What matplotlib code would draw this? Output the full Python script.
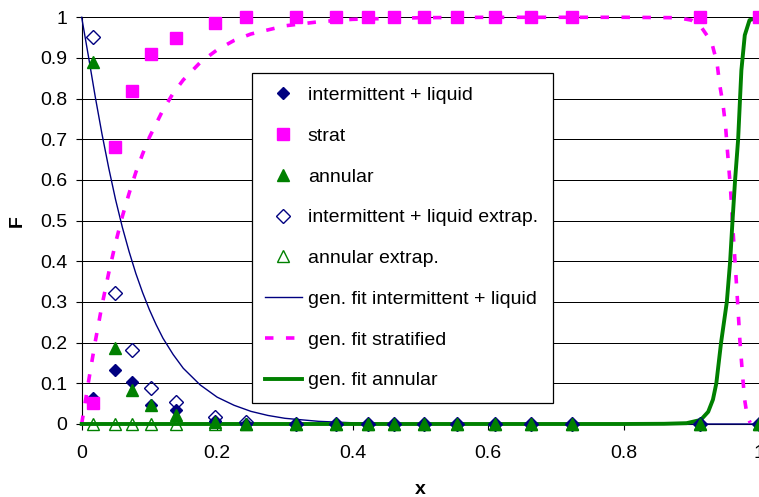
import matplotlib.pyplot as plt
from matplotlib.lines import Line2D

plt.rcParams['font.family'] = ['Liberation Sans', 'DejaVu Sans']

# measured points (x = quality)
x_pts = [0.017, 0.049, 0.075, 0.102, 0.140, 0.197, 0.243, 0.317, 0.376,
         0.422, 0.461, 0.506, 0.554, 0.610, 0.664, 0.724, 0.913, 1.0]
int_liq = [0.064, 0.133, 0.104, 0.047, 0.034, 0.008, 0, 0, 0,
           0, 0, 0, 0, 0, 0, 0, 0, 0]
strat = [0.052, 0.68, 0.82, 0.909, 0.95, 0.985, 1, 1, 1,
         1, 1, 1, 1, 1, 1, 1, 1, 1]
annular = [0.891, 0.187, 0.084, 0.047, 0.022, 0.006, 0, 0, 0,
           0, 0, 0, 0, 0, 0, 0, 0, 0]
int_extrap = [0.951, 0.323, 0.182, 0.089, 0.054, 0.017, 0.005, 0, 0,
              0, 0, 0, 0, 0, 0, 0, 0, 0]
ann_extrap = [0, 0, 0, 0, 0, 0, 0, 0, 0,
              0, 0, 0, 0, 0, 0, 0, 0, 0]

# generalised fits
fit_int_x = [0, 0.01, 0.02, 0.03, 0.04, 0.05, 0.06, 0.07, 0.08, 0.09, 0.10,
             0.11, 0.12, 0.135, 0.15, 0.175, 0.20, 0.225, 0.25, 0.275, 0.30,
             0.35, 0.40, 0.45, 0.50, 0.60, 1.0]
fit_int_y = [1, 0.904, 0.805, 0.713, 0.629, 0.552, 0.484, 0.424, 0.370, 0.323,
             0.281, 0.244, 0.211, 0.171, 0.137, 0.096, 0.066, 0.046, 0.031,
             0.021, 0.014, 0.0065, 0.003, 0.0013, 0.0005, 0, 0]

fit_str_x = [0, 0.005, 0.01, 0.02, 0.03, 0.04, 0.05, 0.06, 0.07, 0.08, 0.09,
             0.10, 0.12, 0.135, 0.15, 0.175, 0.20, 0.225, 0.25, 0.30, 0.35,
             0.40, 0.50, 0.60, 0.70, 0.80, 0.88, 0.90, 0.913, 0.930, 0.938,
             0.942, 0.947, 0.9506, 0.953, 0.958, 0.9618, 0.9658, 0.9697,
             0.9717, 0.974, 0.9763, 0.9789, 0.9825, 0.987]
fit_str_y = [0, 0.051, 0.103, 0.202, 0.292, 0.372, 0.445, 0.510, 0.567, 0.619,
             0.664, 0.705, 0.772, 0.813, 0.846, 0.889, 0.920, 0.943, 0.959,
             0.979, 0.989, 0.995, 0.999, 1, 1, 1, 0.999, 0.993, 0.98, 0.939,
             0.888, 0.834, 0.784, 0.733, 0.68, 0.577, 0.471, 0.369, 0.264,
             0.207, 0.157, 0.108, 0.059, 0.02, 0.003]

fit_ann_x = [0, 0.5, 0.8, 0.86, 0.893, 0.914, 0.925, 0.932, 0.937, 0.944,
             0.9525, 0.9574, 0.9609, 0.9647, 0.9692, 0.972, 0.974, 0.979,
             0.986, 1.0]
fit_ann_y = [0, 0, 0, 0.0005, 0.002, 0.01, 0.03, 0.06, 0.1, 0.2,
             0.3, 0.4, 0.5, 0.6, 0.7, 0.8, 0.87, 0.956,
             0.993, 1.0]

x_ticks = [0, 0.2, 0.4, 0.6, 0.8, 1.0]
x_labels = ['0', '0.2', '0.4', '0.6', '0.8', '1']
y_ticks = [0, 0.1, 0.2, 0.3, 0.4, 0.5, 0.6, 0.7, 0.8, 0.9, 1.0]
y_labels = ['0', '0.1', '0.2', '0.3', '0.4', '0.5', '0.6', '0.7', '0.8', '0.9', '1']

navy = '#000080'
mag = '#FF00FF'
grn = '#008000'
dash = (0, (2.35, 3.45))

fig = plt.figure(figsize=(7.59, 4.97), dpi=100)
ax = fig.add_axes([0.1076, 0.1469, 0.8924, 0.8183])

ax.plot(fit_int_x, fit_int_y, color=navy, lw=1.0, clip_on=False, zorder=3)
ax.plot(fit_str_x, fit_str_y, color=mag, lw=2.6, linestyle=dash,
        clip_on=False, zorder=3)
ax.plot(fit_ann_x, fit_ann_y, color=grn, lw=2.8, clip_on=False, zorder=3)

ax.plot(x_pts, int_extrap, 'D', ms=7.5, mfc='none', mec=navy, mew=1.0,
        clip_on=False, zorder=4)
ax.plot(x_pts, ann_extrap, '^', ms=8, mfc='none', mec=grn, mew=1.0,
        clip_on=False, zorder=4)
ax.plot(x_pts, int_liq, 'D', ms=6, color=navy, clip_on=False, zorder=5)
ax.plot(x_pts, strat, 's', ms=8.5, color=mag, clip_on=False, zorder=6)
ax.plot(x_pts, annular, '^', ms=8, color=grn, clip_on=False, zorder=7)

ax.set_xlim(0, 1)
ax.set_ylim(0, 1)
ax.set_xticks(x_ticks, x_labels)
ax.set_yticks(y_ticks, y_labels)
ax.tick_params(labelsize=14, length=4, width=0.8, direction='out')
ax.tick_params(axis='y', pad=6.5)
ax.tick_params(axis='x', pad=11)
ax.grid(axis='y', color='black', lw=0.72)
ax.set_axisbelow(True)
for s in ['top', 'right']:
    ax.spines[s].set_visible(False)
ax.spines['left'].set_linewidth(0.8)
ax.spines['bottom'].set_linewidth(0.8)

ax.set_xlabel('x', fontsize=14, fontweight='bold', labelpad=14)
ax.set_ylabel('F', fontsize=14, fontweight='bold', labelpad=10)

handles = [
    Line2D([], [], ls='none', marker='D', ms=6, color=navy),
    Line2D([], [], ls='none', marker='s', ms=8.5, color=mag),
    Line2D([], [], ls='none', marker='^', ms=8, color=grn),
    Line2D([], [], ls='none', marker='D', ms=7.5, mfc='none', mec=navy, mew=1.0),
    Line2D([], [], ls='none', marker='^', ms=8, mfc='none', mec=grn, mew=1.0),
    Line2D([], [], color=navy, lw=1.0),
    Line2D([], [], color=mag, lw=2.6, linestyle=dash),
    Line2D([], [], color=grn, lw=2.8),
]
labels = ['intermittent + liquid', 'strat', 'annular',
          'intermittent + liquid extrap.', 'annular extrap.',
          'gen. fit intermittent + liquid', 'gen. fit stratified',
          'gen. fit annular']
leg = ax.legend(handles, labels, loc='upper left',
                bbox_to_anchor=(0.3316, 0.1966, 0.3966, 0.656),
                bbox_transform=fig.transFigure, mode='expand',
                fontsize=14, frameon=True, fancybox=False, framealpha=1,
                edgecolor='black', borderpad=0.68, labelspacing=1.19,
                handlelength=1.9, handletextpad=0.3, borderaxespad=0)
leg.get_frame().set_linewidth(0.9)
leg.set_zorder(10)

fig.savefig('out.png', dpi=100)
